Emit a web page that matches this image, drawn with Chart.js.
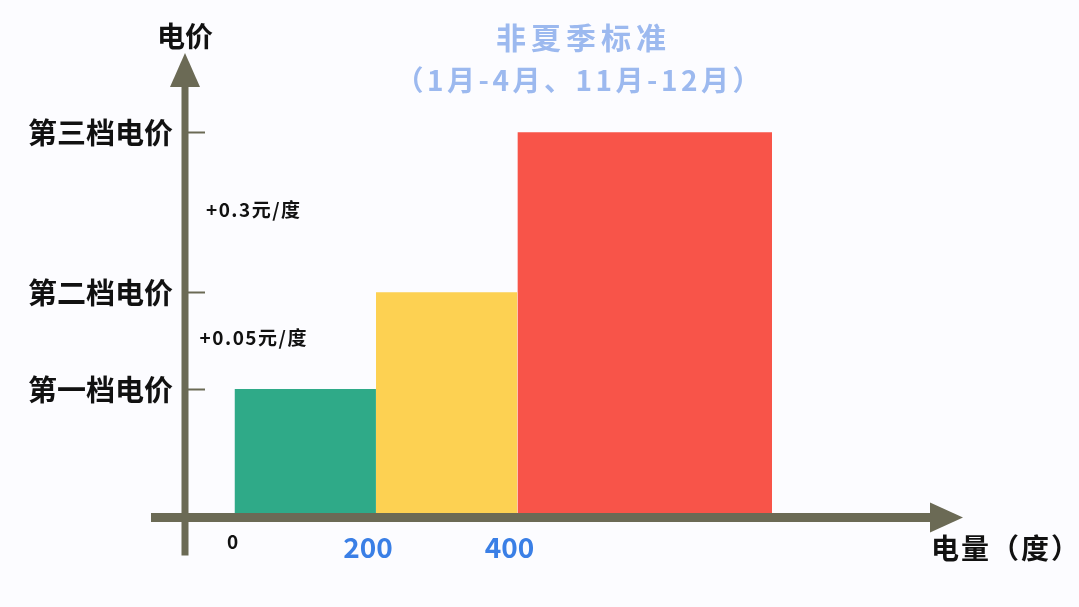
<!DOCTYPE html>
<html>
<head>
<meta charset="utf-8">
<title>非夏季标准</title>
<script src="https://cdn.jsdelivr.net/npm/chart.js"></script>
<style>
  html, body { margin: 0; padding: 0; background: #fcfcff; }
  #wrap { width: 1079px; height: 607px; position: relative; }
</style>
</head>
<body>
<div id="wrap"><canvas id="grafico"></canvas></div>
<script>
// datos (esquema, unidades relativas)
const tierNames = ['第一档电价', '第二档电价', '第三档电价'];
const tierLevels = [1, 1.78, 3.07];
const tierEdges = [0, 200, 400, 760];
const tierColors = ['#2faa88', '#fdd152', '#f85449'];
const xTickValues = [0, 200, 400];
const xTickLabels = ['0', '200', '400'];
const deltaLabels = ['+0.05元/度', '+0.3元/度'];
const titleLines = ['非夏季标准', '（1月-4月、11月-12月）'];
const yAxisTitle = '电价';
const xAxisTitle = '电量（度）';

const axisColor = '#6b6a55';
const fontFam = '"Noto Sans CJK SC", "Noto Sans", sans-serif';

// cada tramo es una linea de dos puntos rellenada hasta el eje
const datasets = tierLevels.map((lvl, i) => ({
  data: [{ x: tierEdges[i], y: lvl }, { x: tierEdges[i + 1], y: lvl }],
  borderWidth: 0,
  pointRadius: 0,
  tension: 0,
  fill: 'origin',
  backgroundColor: tierColors[i]
}));

function texto(ctx, t, x, y, spacing) {
  ctx.letterSpacing = spacing + 'px';
  // compensar el espacio extra tras el ultimo caracter
  let dx = 0;
  if (ctx.textAlign === 'center') dx = spacing / 2;
  if (ctx.textAlign === 'right') dx = spacing;
  ctx.fillText(t, x + dx, y);
  ctx.letterSpacing = '0px';
}

const ejes = {
  id: 'ejes',
  afterDatasetsDraw(chart) {
    const { ctx } = chart;
    const ys = chart.scales.y;
    const ax = chart.chartArea.left;
    const base = ys.getPixelForValue(0) + 4.5;
    const top = chart.chartArea.top;
    const right = chart.chartArea.right;
    ctx.save();
    ctx.strokeStyle = axisColor;
    ctx.fillStyle = axisColor;
    // eje y
    ctx.lineWidth = 7;
    ctx.beginPath();
    ctx.moveTo(ax, base + 38);
    ctx.lineTo(ax, top + 30);
    ctx.stroke();
    ctx.beginPath();
    ctx.moveTo(ax, top);
    ctx.lineTo(ax - 15, top + 34);
    ctx.lineTo(ax + 15, top + 34);
    ctx.closePath();
    ctx.fill();
    // eje x
    ctx.lineWidth = 9;
    ctx.beginPath();
    ctx.moveTo(ax - 34, base);
    ctx.lineTo(right - 30, base);
    ctx.stroke();
    ctx.beginPath();
    ctx.moveTo(right, base);
    ctx.lineTo(right - 33, base - 15);
    ctx.lineTo(right - 33, base + 15);
    ctx.closePath();
    ctx.fill();
    // marcas del eje y
    ctx.lineWidth = 2;
    tierLevels.forEach(v => {
      const py = Math.round(ys.getPixelForValue(v)) + 0.5;
      ctx.beginPath();
      ctx.moveTo(ax + 3, py);
      ctx.lineTo(ax + 20, py);
      ctx.stroke();
    });
    ctx.restore();
  },
  afterDraw(chart) {
    const { ctx } = chart;
    const xs = chart.scales.x, ys = chart.scales.y;
    const ax = chart.chartArea.left;
    const base = ys.getPixelForValue(0);
    ctx.save();
    ctx.textBaseline = 'middle';
    // etiquetas de tramos
    ctx.fillStyle = '#111';
    ctx.textAlign = 'right';
    ctx.font = 'bold 29px ' + fontFam;
    tierNames.forEach((t, i) => {
      ctx.fillText(t, ax - 12, ys.getPixelForValue(tierLevels[i]) + 1);
    });
    // incrementos
    ctx.textAlign = 'center';
    ctx.font = 'bold 19px ' + fontFam;
    deltaLabels.forEach((t, i) => {
      const mid = (ys.getPixelForValue(tierLevels[i]) + ys.getPixelForValue(tierLevels[i + 1])) / 2;
      texto(ctx, t, ax + 68, mid - 3, 1.5);
    });
    // etiquetas eje x
    xTickValues.forEach((v, i) => {
      const px = xs.getPixelForValue(v);
      if (v === 0) {
        ctx.fillStyle = '#111';
        ctx.font = 'bold 19px ' + fontFam;
        ctx.fillText(xTickLabels[i], px - 2, base + 29);
      } else {
        ctx.fillStyle = '#3a7fe6';
        ctx.font = 'bold 28px ' + fontFam;
        ctx.fillText(xTickLabels[i], px - 8, base + 34);
      }
    });
    // titulos de ejes
    ctx.fillStyle = '#111';
    ctx.font = 'bold 28px ' + fontFam;
    ctx.fillText(yAxisTitle, ax, 36);
    ctx.textAlign = 'left';
    ctx.font = 'bold 28px ' + fontFam;
    texto(ctx, xAxisTitle, 931, base + 35, 2);
    // titulo
    ctx.textAlign = 'center';
    ctx.fillStyle = '#9cb9ef';
    ctx.font = 'bold 30px ' + fontFam;
    texto(ctx, titleLines[0], 581, 38, 5);
    ctx.font = 'bold 28px ' + fontFam;
    texto(ctx, titleLines[1], 578, 80, 3.5);
    ctx.restore();
  }
};

new Chart(document.getElementById('grafico').getContext('2d'), {
  type: 'line',
  data: { datasets },
  options: {
    responsive: true,
    maintainAspectRatio: false,
    animation: false,
    layout: { padding: { left: 185, right: 116, top: 53, bottom: 94 } },
    plugins: { legend: { display: false }, tooltip: { enabled: false }, title: { display: false } },
    scales: {
      x: { type: 'linear', min: -70, max: 1030, display: false },
      y: { type: 'linear', min: 0, max: 3.71, display: false }
    }
  },
  plugins: [ejes]
});
</script>
</body>
</html>
